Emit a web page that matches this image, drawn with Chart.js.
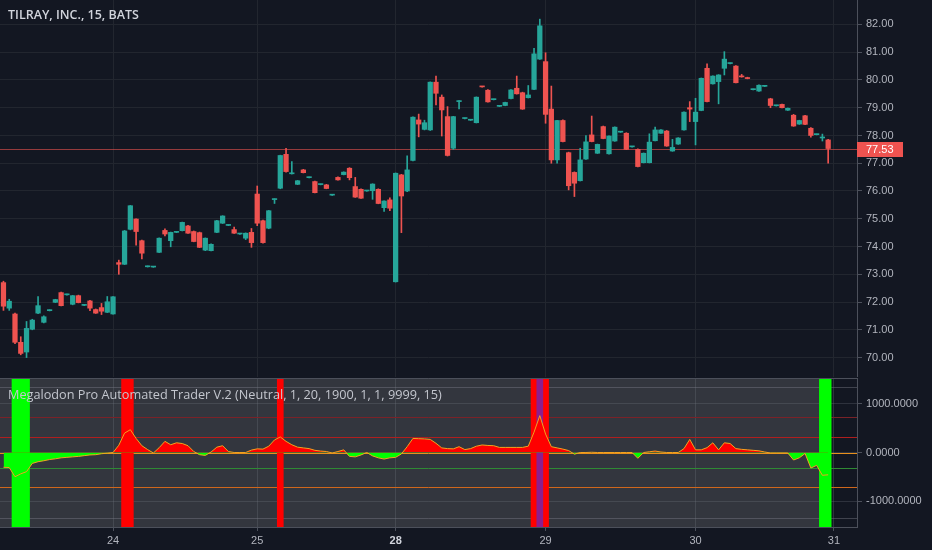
<!DOCTYPE html>
<html>
<head>
<meta charset="utf-8">
<title>TILRAY, INC., 15, BATS</title>
<script src="https://cdn.jsdelivr.net/npm/chart.js@4.4.1/dist/chart.umd.min.js"></script>
<style>
  html, body { margin: 0; padding: 0; background: #131722; }
  #wrap { position: relative; width: 932px; height: 550px; overflow: hidden; background: #131722; }
  #priceBox { position: absolute; left: 0; top: 0; width: 932px; height: 377px; }
  #oscBox { position: absolute; left: 0; top: 377px; width: 932px; height: 173px; }
  .label { position: absolute; font-family: 'Open Sans', sans-serif; white-space: nowrap; pointer-events: none; }
  #title { left: 8px; top: 6px; font-size: 12.5px; font-weight: 600; color: #d1d4dc; }
  #oscTitle { left: 8px; top: 385px; font-size: 12.7px; color: #c3c6ce; }
</style>
</head>
<body>
<div id="wrap">
  <div id="priceBox"><canvas id="priceChart"></canvas></div>
  <div id="oscBox"><canvas id="oscChart"></canvas></div>
  <div class="label" id="title">TILRAY, INC., 15, BATS</div>
  <div class="label" id="oscTitle">Megalodon Pro Automated Trader V.2 (Neutral, 1, 20, 1900, 1, 1, 9999, 15)</div>
</div>
<script>
// 15 minute bars (index 0 = first bar on screen)
const opens = [
  72.70, 71.78, 71.57, 70.55, 70.20, 71.02, 71.60, 71.27, 71.69, 71.99,
  72.34, 72.26, 71.92, 72.23, 71.88, 72.04, 71.73, 71.80, 71.63, 71.57,
  73.42, 73.36, 74.62, 74.99, 74.21, 73.27, 73.26, 73.79, 74.58, 74.21,
  74.51, 74.57, 74.74, 74.54, 74.50, 73.87, 73.85, 74.51, 74.84, 74.76,
  74.61, 74.45, 74.30, 74.51, 75.89, 74.93, 74.66, 75.69, 76.10, 77.32,
  76.62, 76.24, 76.76, 76.48, 76.34, 76.23, 76.22, 75.85, 76.49, 76.59,
  76.82, 76.16, 76.06, 76.00, 76.01, 76.06, 75.40, 75.68, 72.73, 76.58,
  76.00, 77.10, 78.56, 78.22, 78.20, 79.92, 79.38, 78.68, 77.54, 79.22,
  78.61, 78.55, 78.46, 79.76, 79.63, 79.29, 79.05, 79.08, 79.33, 79.70,
  79.54, 79.36, 79.66, 80.75, 80.66, 78.95, 77.12, 78.54, 77.38, 76.67,
  76.37, 77.15, 78.02, 77.36, 78.32, 77.34, 77.80, 78.12, 78.08, 77.59,
  77.50, 77.02, 77.02, 77.81, 78.08, 78.16, 77.44, 77.69, 78.20, 79.00,
  78.50, 78.90, 80.42, 79.86, 79.94, 80.42, 80.59, 80.50, 80.13, 80.07,
  79.65, 79.60, 79.77, 79.32, 79.07, 79.12, 78.91, 78.73, 78.41, 78.71,
  78.26, 78.03, 77.91, 77.84
];
const highs = [
  72.75, 72.10, 71.60, 70.75, 71.30, 71.38, 72.20, 71.50, 71.72, 72.10,
  72.36, 72.29, 72.24, 72.25, 71.91, 72.06, 71.75, 71.95, 72.20, 72.20,
  73.51, 74.58, 75.48, 75.00, 74.23, 73.30, 73.28, 74.31, 74.64, 74.52,
  74.53, 74.88, 74.76, 74.56, 74.52, 74.31, 74.10, 74.94, 75.11, 74.78,
  74.70, 74.47, 74.49, 74.65, 76.18, 74.95, 75.30, 75.72, 77.29, 77.54,
  77.06, 76.38, 76.78, 76.50, 76.36, 76.25, 76.24, 75.87, 76.51, 76.69,
  76.84, 76.49, 76.08, 76.02, 76.26, 76.08, 75.65, 75.75, 76.65, 76.60,
  77.27, 78.67, 78.77, 78.55, 79.93, 80.14, 79.46, 79.04, 78.69, 79.26,
  78.63, 78.57, 79.39, 79.77, 79.65, 79.31, 79.07, 79.20, 79.65, 80.14,
  79.56, 79.80, 81.14, 82.19, 80.98, 79.78, 78.55, 78.56, 77.40, 76.69,
  77.54, 78.00, 78.70, 77.69, 78.34, 77.99, 78.31, 78.14, 78.10, 77.61,
  77.52, 77.37, 78.06, 78.30, 78.21, 78.18, 77.86, 77.92, 78.85, 79.22,
  79.34, 80.07, 80.58, 80.15, 80.19, 81.02, 80.61, 80.52, 80.20, 80.10,
  79.67, 79.82, 79.79, 79.34, 79.09, 79.13, 78.99, 78.76, 78.55, 78.73,
  78.28, 78.05, 78.05, 77.86
];
const lows = [
  71.70, 71.70, 70.50, 70.10, 70.00, 71.00, 71.58, 71.25, 71.68, 71.98,
  71.86, 72.25, 71.90, 71.97, 71.87, 71.69, 71.59, 71.55, 71.62, 71.56,
  73.00, 73.35, 74.60, 74.05, 73.55, 73.26, 73.25, 73.78, 74.38, 73.99,
  74.50, 74.56, 74.47, 74.17, 73.96, 73.85, 73.84, 74.50, 74.83, 74.75,
  74.47, 74.44, 74.25, 73.97, 74.75, 74.12, 74.64, 75.55, 76.08, 76.68,
  76.61, 76.23, 76.65, 76.47, 75.93, 76.22, 76.08, 75.84, 76.39, 76.58,
  76.40, 75.77, 75.73, 75.99, 75.70, 75.54, 75.26, 75.29, 72.72, 74.50,
  75.98, 77.08, 77.95, 78.20, 78.18, 79.10, 77.98, 77.26, 77.50, 78.96,
  78.60, 78.54, 78.45, 79.74, 79.20, 79.28, 79.04, 79.07, 79.32, 79.49,
  78.94, 79.35, 79.65, 80.74, 78.44, 77.00, 77.00, 77.77, 76.04, 75.80,
  76.36, 77.14, 77.77, 77.35, 77.88, 77.33, 77.79, 78.11, 77.49, 77.58,
  76.87, 77.01, 77.01, 77.80, 78.07, 77.61, 77.43, 77.68, 78.19, 78.50,
  77.66, 78.89, 79.21, 79.85, 79.14, 80.18, 80.58, 79.89, 80.10, 80.04,
  79.64, 79.59, 79.76, 79.00, 79.06, 78.99, 78.90, 78.33, 78.40, 78.39,
  77.94, 78.02, 77.80, 77.00
];
const closes = [
  71.85, 72.03, 70.55, 70.15, 71.05, 71.35, 71.87, 71.47, 71.71, 72.09,
  71.87, 72.28, 72.23, 71.98, 71.90, 71.78, 71.60, 71.67, 72.01, 72.19,
  73.36, 74.56, 75.47, 74.54, 73.76, 73.29, 73.27, 74.30, 74.45, 74.51,
  74.52, 74.87, 74.48, 74.18, 73.97, 74.30, 74.08, 74.93, 75.10, 74.77,
  74.48, 74.46, 74.48, 74.14, 74.84, 74.14, 75.29, 75.71, 77.28, 76.70,
  76.65, 76.37, 76.66, 76.49, 75.94, 76.24, 76.09, 75.86, 76.40, 76.68,
  76.48, 75.78, 75.74, 76.01, 76.25, 75.55, 75.64, 75.38, 76.64, 75.82,
  76.76, 78.66, 78.41, 78.46, 79.92, 79.52, 78.92, 77.28, 78.68, 79.24,
  78.62, 78.56, 79.38, 79.75, 79.21, 79.30, 79.06, 79.19, 79.64, 79.50,
  78.95, 79.46, 80.94, 81.95, 78.76, 77.12, 78.54, 77.78, 76.19, 76.28,
  77.12, 77.77, 77.78, 77.68, 77.89, 77.98, 78.30, 78.13, 77.50, 77.60,
  76.88, 77.36, 77.76, 78.20, 78.20, 77.62, 77.57, 77.91, 78.84, 78.95,
  78.84, 80.06, 79.22, 80.14, 80.18, 80.75, 80.60, 79.90, 80.11, 80.05,
  79.66, 79.81, 79.78, 79.08, 79.08, 79.00, 78.98, 78.34, 78.54, 78.40,
  78.00, 78.04, 77.93, 77.53
];

// indicator values, one per bar
const oscValues = [
  -305, -310, -500, -440, -395, -225, -190, -170, -145, -130,
  -110, -100, -90, -80, -65, -50, -45, -25, -15, 0,
  150, 400, 470, 290, 140, 60, -10, 100, 230, 160,
  200, 185, 140, 20, -45, -60, 10, 110, 140, 20,
  0, 0, 0, 50, 75, 70, 130, 260, 320, 230,
  160, 110, 95, 80, 45, 30, 20, -10, 20, 55,
  -80, -90, -50, 0, -70, -110, -135, -110, -100, -30,
  120, 290, 285, 280, 270, 190, 95, 80, 75, 120,
  60, 80, 130, 155, 145, 140, 105, 105, 105, 105,
  105, 130, 420, 760, 380, 120, 95, 70, 40, -35,
  0, 0, 5, 0, 0, 0, 0, 0, 0, 0,
  -120, 0, 15, 30, 10, 0, 0, 0, 80, 270,
  55, 55, 100, 200, 55, 200, 185, 80, 65, 55,
  45, 35, 10, -10, -10, -10, -10, -155, -110, -20,
  -320, -265, -470, -460
];

// signal bars (bar indexes)
const buySignals = [2, 3, 4, 142, 143];
const sellSignals = [21, 22, 48, 92, 93, 94];
const strongSignals = [93];

const dayTicks = [19, 44, 68, 94, 120, 144];
const dayLabels = ['24', '25', '28', '29', '30', '31'];
const boldDays = ['28'];
const priceTicks = [70, 71, 72, 73, 74, 75, 76, 77, 78, 79, 80, 81, 82];
const oscTicks = [-1000, 0, 1000];
const oscLevels = [1350, 730, 320, 0, -320, -710, -1350];

const levelColors = ['rgba(120,123,134,0.45)', '#7a2228', '#b01e1e', '#e8901c', '#2f8a34', '#d0671c', 'rgba(120,123,134,0.45)'];
const UP = '#26a69a';
const DOWN = '#ef5350';
const GRID = '#22262f';
const EDGE = '#4c505b';
const AXIS_TEXT = '#b2b5be';
const X_MIN = -0.6, X_MAX = 148;
const OSC_MIN = -1536, OSC_MAX = 1536;
const lastPrice = closes[closes.length - 1];

Chart.defaults.font.family = "'Liberation Sans', Arial, sans-serif";
Chart.defaults.font.size = 11;

const idx = closes.map((_, i) => i);
const candleColors = idx.map(i => closes[i] >= opens[i] ? UP : DOWN);

function dayLabelOf(c) {
  if (!c || !c.tick) return '';
  return dayLabels[dayTicks.indexOf(c.tick.value)];
}

// keep the plot area flush with the canvas edges (TradingView style)
function noPad(s) {
  s.paddingTop = 0;
  s.paddingBottom = 0;
  s.paddingLeft = 0;
  s.paddingRight = 0;
}

const priceLinePlugin = {
  id: 'priceLine',
  beforeDatasetsDraw(chart) {
    const { ctx, chartArea, scales } = chart;
    const y = Math.round(scales.y.getPixelForValue(lastPrice)) + 0.5;
    ctx.save();
    ctx.strokeStyle = 'rgba(239,83,80,0.6)';
    ctx.lineWidth = 1;
    ctx.beginPath();
    ctx.moveTo(chartArea.left, y);
    ctx.lineTo(chartArea.right, y);
    ctx.stroke();
    ctx.restore();
  },
  afterDraw(chart) {
    const { ctx, chartArea, scales } = chart;
    const y = scales.y.getPixelForValue(lastPrice);
    ctx.save();
    ctx.fillStyle = DOWN;
    ctx.fillRect(chartArea.right, Math.round(y) - 7, 46, 15);
    ctx.fillStyle = '#ffffff';
    ctx.font = "11px 'Liberation Sans', Arial, sans-serif";
    ctx.textBaseline = 'middle';
    ctx.fillText(lastPrice.toFixed(2), chartArea.right + 9, Math.round(y) + 1);
    ctx.restore();
  }
};

new Chart(document.getElementById('priceChart'), {
  type: 'bar',
  data: {
    datasets: [
      {
        label: 'body',
        data: idx.map(i => ({ x: i, y: [Math.min(opens[i], closes[i]), Math.max(opens[i], closes[i])] })),
        backgroundColor: candleColors,
        barThickness: 4.6,
        minBarLength: 1,
        grouped: false,
        order: 0
      },
      {
        label: 'wick',
        data: idx.map(i => ({ x: i, y: [lows[i], highs[i]] })),
        backgroundColor: candleColors,
        barThickness: 1,
        grouped: false,
        order: 1
      }
    ]
  },
  options: {
    animation: false,
    responsive: true,
    maintainAspectRatio: false,
    layout: { padding: 0, autoPadding: false },
    plugins: { legend: { display: false }, tooltip: { enabled: false } },
    scales: {
      x: {
        type: 'linear',
        offset: false,
        min: X_MIN,
        max: X_MAX,
        afterBuildTicks: s => { s.ticks = dayTicks.map(v => ({ value: v })); },
        ticks: { display: false, autoSkip: false },
        grid: { color: GRID, drawTicks: false, offset: false },
        border: { display: false },
        afterFit: s => { s.height = 0; noPad(s); }
      },
      y: {
        type: 'linear',
        position: 'right',
        beginAtZero: false,
        min: 69.3,
        max: 82.88,
        afterBuildTicks: s => { s.ticks = priceTicks.map(v => ({ value: v })); },
        ticks: { color: AXIS_TEXT, padding: 4, autoSkip: false, callback: v => v.toFixed(2) },
        grid: { color: GRID, tickColor: EDGE, tickLength: 5 },
        border: { color: EDGE },
        afterFit: s => { s.width = 75; noPad(s); }
      }
    }
  },
  plugins: [priceLinePlugin]
});

// indicator pane: grey backdrop, level lines, top border
const oscPanePlugin = {
  id: 'oscPane',
  beforeDraw(chart) {
    const { ctx, chartArea, scales } = chart;
    const right = scales.x.getPixelForValue(idx.length - 0.5);
    ctx.save();
    ctx.fillStyle = '#33363e';
    ctx.fillRect(chartArea.left, chartArea.top, right - chartArea.left, chartArea.bottom - chartArea.top);
    ctx.restore();
  },
  beforeDatasetsDraw(chart) {
    const { ctx, chartArea, scales } = chart;
    ctx.save();
    ctx.lineWidth = 1;
    oscLevels.forEach((lv, k) => {
      const y = Math.round(scales.y.getPixelForValue(lv)) + 0.5;
      ctx.strokeStyle = levelColors[k];
      ctx.beginPath();
      ctx.moveTo(chartArea.left, y);
      ctx.lineTo(chartArea.right, y);
      ctx.stroke();
    });
    ctx.restore();
  },
  afterDraw(chart) {
    const { ctx, chartArea } = chart;
    ctx.save();
    ctx.strokeStyle = EDGE;
    ctx.lineWidth = 1;
    ctx.beginPath();
    ctx.moveTo(chartArea.left, chartArea.top + 0.5);
    ctx.lineTo(chartArea.right, chartArea.top + 0.5);
    ctx.stroke();
    ctx.restore();
  }
};

const band = (list, color, order) => ({
  type: 'bar',
  data: list.map(i => ({ x: i, y: [OSC_MIN, OSC_MAX] })),
  backgroundColor: color,
  barThickness: 6,
  grouped: false,
  order: order
});

new Chart(document.getElementById('oscChart'), {
  type: 'line',
  data: {
    datasets: [
      {
        label: 'osc',
        data: idx.map(i => ({ x: i, y: oscValues[i] })),
        borderColor: '#f2a31f',
        borderWidth: 1,
        pointRadius: 0,
        tension: 0,
        fill: { target: { value: 0 }, above: '#ff0000', below: '#00ff00' },
        order: 0
      },
      band(strongSignals, '#8b1e8f', 1),
      band(sellSignals, '#ff0000', 2),
      band(buySignals, '#00ff00', 2)
    ]
  },
  options: {
    animation: false,
    responsive: true,
    maintainAspectRatio: false,
    layout: { padding: { top: 1, left: 0, right: 0, bottom: 0 }, autoPadding: false },
    plugins: { legend: { display: false }, tooltip: { enabled: false } },
    scales: {
      x: {
        type: 'linear',
        offset: false,
        min: X_MIN,
        max: X_MAX,
        afterBuildTicks: s => { s.ticks = dayTicks.map(v => ({ value: v })); },
        ticks: {
          autoSkip: false,
          maxRotation: 0,
          padding: 3,
          callback: v => dayLabels[dayTicks.indexOf(v)],
          color: c => boldDays.includes(dayLabelOf(c)) ? '#d1d4dc' : AXIS_TEXT,
          font: c => ({ size: 11, weight: boldDays.includes(dayLabelOf(c)) ? 'bold' : 'normal' })
        },
        grid: { color: 'rgba(120,123,134,0.28)', tickColor: EDGE, tickLength: 4, offset: false },
        border: { color: EDGE },
        afterFit: s => { s.height = 23; noPad(s); }
      },
      y: {
        type: 'linear',
        position: 'right',
        min: OSC_MIN,
        max: OSC_MAX,
        afterBuildTicks: s => { s.ticks = oscTicks.map(v => ({ value: v })); },
        ticks: { color: AXIS_TEXT, padding: 4, autoSkip: false, callback: v => v.toFixed(4) },
        grid: { color: 'rgba(120,123,134,0.28)', tickColor: EDGE, tickLength: 5 },
        border: { color: EDGE },
        afterFit: s => { s.width = 75; noPad(s); }
      }
    }
  },
  plugins: [oscPanePlugin]
});
</script>
</body>
</html>
